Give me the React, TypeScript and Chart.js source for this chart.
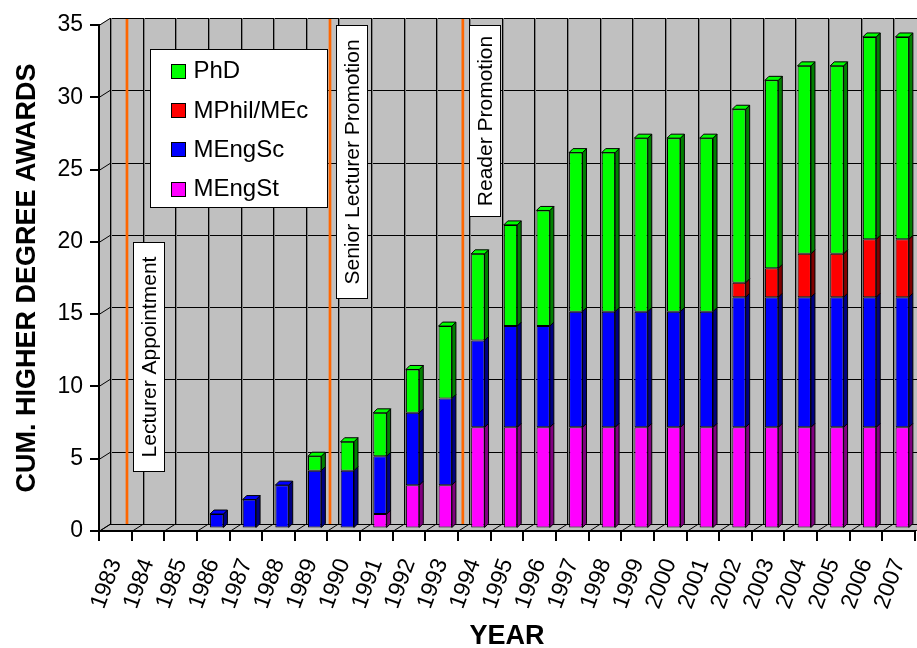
import React, { useEffect, useRef } from 'react';
import { Chart, registerables } from 'chart.js';

Chart.register(...registerables);

// ---------- data ----------
const years = ['1983','1984','1985','1986','1987','1988','1989','1990','1991','1992','1993','1994','1995','1996','1997','1998','1999','2000','2001','2002','2003','2004','2005','2006','2007'];
const mEngSt = [0,0,0,0,0,0,0,0,1,3,3,7,7,7,7,7,7,7,7,7,7,7,7,7,7];
const mEngSc = [0,0,0,1,2,3,4,4,4,5,6,6,7,7,8,8,8,8,8,9,9,9,9,9,9];
const mPhil = [0,0,0,0,0,0,0,0,0,0,0,0,0,0,0,0,0,0,0,1,2,3,3,4,4];
const phd = [0,0,0,0,0,0,1,2,3,3,5,6,7,8,11,11,12,12,12,12,13,13,13,14,14];
const seriesLabels = ['MEngSt', 'MEngSc', 'MPhil/MEc', 'PhD'];
const yTicks = [0, 5, 10, 15, 20, 25, 30, 35];
const eventLabels = ['Lecturer Appointment', 'Senior Lecturer Promotion', 'Reader Promotion'];
const eventPositions = [0.02, 6.24, 10.31]; // category index on the back wall
const eventBoxTops = [20, 35, 35]; // value at top of label box

// ---------- styles ----------
const FONT = "'Liberation Sans', Arial, Helvetica, sans-serif";
const frontColors = ['#FF00FF', '#0000FF', '#FF0000', '#00FF00'];
const sideColors = ['#800080', '#000080', '#800000', '#008000'];
const WALL = '#C0C0C0';
const ORANGE = '#FF6600';
const DX = 11, DY = -7;      // wall depth
const BX = 3.5, BY = -2.5;   // bar plane shift
const SX = 4, SY = -4;       // bar depth
const eventPad = [14, 14, 10.5];

function poly(ctx: CanvasRenderingContext2D, pts: number[][], fill?: string, stroke?: string) {
  ctx.beginPath();
  ctx.moveTo(pts[0][0], pts[0][1]);
  for (let i = 1; i < pts.length; i++) ctx.lineTo(pts[i][0], pts[i][1]);
  ctx.closePath();
  if (fill) { ctx.fillStyle = fill; ctx.fill(); }
  if (stroke) { ctx.strokeStyle = stroke; ctx.lineWidth = 1; ctx.stroke(); }
}
function line(ctx: CanvasRenderingContext2D, pts: number[][], color: string, w = 1) {
  ctx.beginPath();
  ctx.moveTo(pts[0][0], pts[0][1]);
  for (let i = 1; i < pts.length; i++) ctx.lineTo(pts[i][0], pts[i][1]);
  ctx.strokeStyle = color; ctx.lineWidth = w; ctx.stroke();
}

const threeD = {
  id: 'threeD',
  beforeDraw(chart: any) {
    const { ctx, chartArea: a, scales } = chart;
    const x = scales.x, y = scales.y;
    const W = chart.width;
    ctx.save();
    // back wall
    ctx.fillStyle = WALL;
    ctx.fillRect(a.left + DX, a.top + DY, W, a.bottom - a.top);
    // side wall
    poly(ctx, [[a.left, a.top], [a.left + DX, a.top + DY], [a.left + DX, a.bottom + DY], [a.left, a.bottom]], WALL);
    // floor
    poly(ctx, [[a.left, a.bottom], [a.left + DX, a.bottom + DY], [W + 20, a.bottom + DY], [W + 20, a.bottom]], WALL);
    // horizontal grid lines
    for (const v of yTicks) {
      const py = Math.round(y.getPixelForValue(v)) + 0.5;
      line(ctx, [[a.left, py], [a.left + DX, py + DY], [W + 5, py + DY]], '#000', 1);
    }
    // vertical grid lines + floor diagonals
    for (let i = 0; i <= years.length; i++) {
      const px = Math.round(x.getPixelForValue(i - 0.5)) + 0.5;
      line(ctx, [[px + DX + 1, a.top + DY], [px + DX + 1, a.bottom + DY]], '#808080', 1);
      line(ctx, [[px + DX, a.top + DY], [px + DX, a.bottom + DY]], '#000', 1);
      line(ctx, [[px, a.bottom], [px + DX, a.bottom + DY]], '#000', 1);
    }
    // events
    ctx.font = `21px ${FONT}`;
    eventLabels.forEach((lab, k) => {
      const lx = x.getPixelForValue(eventPositions[k]) + DX;
      line(ctx, [[lx, a.top + DY + 1], [lx, a.bottom + DY]], ORANGE, 2.7);
      const tw = ctx.measureText(lab).width;
      const bl = Math.round(lx + 6) + 0.5;
      const bw = 31;
      const bt = Math.round(y.getPixelForValue(eventBoxTops[k])) + 0.5;
      const bh = Math.round(tw + 2 * eventPad[k]);
      ctx.fillStyle = '#FFFFFF';
      ctx.fillRect(bl, bt, bw, bh);
      ctx.strokeStyle = '#000'; ctx.lineWidth = 1;
      ctx.strokeRect(bl, bt, bw, bh);
      ctx.save();
      ctx.translate(bl + bw / 2, bt + bh / 2);
      ctx.rotate(-Math.PI / 2);
      ctx.fillStyle = '#000';
      ctx.textAlign = 'center';
      ctx.textBaseline = 'middle';
      ctx.fillText(lab, 0, 1);
      ctx.restore();
    });
    ctx.restore();
  },
  beforeDatasetsDraw(chart: any) {
    chart.ctx.save();
    chart.ctx.translate(BX, BY);
  },
  afterDatasetsDraw(chart: any) {
    const ctx = chart.ctx;
    const n = years.length;
    const dsCount = chart.data.datasets.length;
    for (let j = 0; j < n; j++) {
      let topDs = -1;
      for (let d = 0; d < dsCount; d++) if (chart.data.datasets[d].data[j] > 0) topDs = d;
      for (let d = 0; d < dsCount; d++) {
        if (!(chart.data.datasets[d].data[j] > 0)) continue;
        const el = chart.getDatasetMeta(d).data[j];
        const { x, y, base, width } = el.getProps(['x', 'y', 'base', 'width'], true);
        const l = x - width / 2, r = x + width / 2;
        poly(ctx, [[r, y], [r + SX, y + SY], [r + SX, base + SY], [r, base]], sideColors[d], '#000');
        if (d === topDs) {
          poly(ctx, [[l, y], [l + SX, y + SY], [r + SX, y + SY], [r, y]], frontColors[d], '#000');
        }
      }
    }
    ctx.restore();
  },
  afterDraw(chart: any) {
    const { ctx, chartArea: a } = chart;
    ctx.save();
    const lx = a.left + 51.5, ly = a.top + 24.5, lw = 177, lh = 158;
    ctx.fillStyle = '#FFFFFF';
    ctx.fillRect(lx, ly, lw, lh);
    ctx.strokeStyle = '#000'; ctx.lineWidth = 1;
    ctx.strokeRect(lx, ly, lw, lh);
    ctx.font = `24px ${FONT}`;
    ctx.textBaseline = 'middle';
    ctx.textAlign = 'left';
    const ds = chart.data.datasets;
    for (let k = 0; k < ds.length; k++) {
      const d = ds.length - 1 - k;
      const cy = ly + 21 + k * 39.4;
      ctx.fillStyle = frontColors[d];
      ctx.fillRect(lx + 21, Math.round(cy - 7) + 0.5, 14, 14);
      ctx.strokeStyle = '#000';
      ctx.strokeRect(lx + 21, Math.round(cy - 7) + 0.5, 14, 14);
      ctx.fillStyle = '#000';
      ctx.fillText(ds[d].label, lx + 43, cy + 1);
    }
    ctx.restore();
  },
};

export default function App() {
  const ref = useRef<HTMLCanvasElement>(null);
  useEffect(() => {
    if (!ref.current) return;
    const seriesData = [mEngSt, mEngSc, mPhil, phd];
    const chart = new Chart(ref.current, {
      type: 'bar',
      data: {
        labels: years,
        datasets: seriesData.map((data, i) => ({
          label: seriesLabels[i],
          data,
          backgroundColor: frontColors[i],
          borderColor: '#000',
          borderWidth: 1,
          borderSkipped: false,
          barPercentage: 0.41,
          categoryPercentage: 1,
        })),
      },
      options: {
        responsive: false,
        animation: false,
        layout: { padding: { top: 25, right: 2, left: 0, bottom: 0 } },
        plugins: { legend: { display: false }, tooltip: { enabled: false } },
        scales: {
          x: {
            stacked: true,
            offset: true,
            grid: { display: true, drawOnChartArea: false, drawTicks: true, tickLength: 10, color: '#000', lineWidth: 2, offset: true },
            border: { display: true, color: '#000', width: 2 },
            ticks: { autoSkip: false, minRotation: 70, maxRotation: 70, font: { family: FONT, size: 23 }, color: '#000', padding: 14 },
            title: { display: true, text: 'YEAR', font: { family: FONT, size: 27, weight: 'bold', lineHeight: 1 }, color: '#000', padding: { top: 0, bottom: -2 } },
            afterFit(scale: any) { scale.height = 117; scale.paddingLeft = 0; scale.paddingRight = 0; },
          },
          y: {
            stacked: true,
            min: 0,
            max: 35,
            afterBuildTicks(scale: any) { scale.ticks = yTicks.map((v) => ({ value: v })); },
            ticks: { font: { family: FONT, size: 23 }, color: '#000', padding: 7 },
            grid: { display: true, drawOnChartArea: false, drawTicks: true, tickLength: 9, color: '#000', lineWidth: 2 },
            border: { display: true, color: '#000', width: 2 },
            title: { display: true, text: 'CUM. HIGHER DEGREE AWARDS', font: { family: FONT, size: 27, weight: 'bold', lineHeight: 1 }, color: '#000', padding: { top: 14, bottom: 0 } },
            afterFit(scale: any) { scale.width = 99; scale.paddingTop = 0; scale.paddingBottom = 0; },
          },
        },
      },
      plugins: [threeD],
    } as any);
    return () => chart.destroy();
  }, []);
  return (
    <div style={{ position: 'fixed', left: 0, top: 0, width: 917, height: 648, background: '#FFFFFF' }}>
      <canvas ref={ref} width={917} height={648} style={{ display: 'block' }} />
    </div>
  );
}
